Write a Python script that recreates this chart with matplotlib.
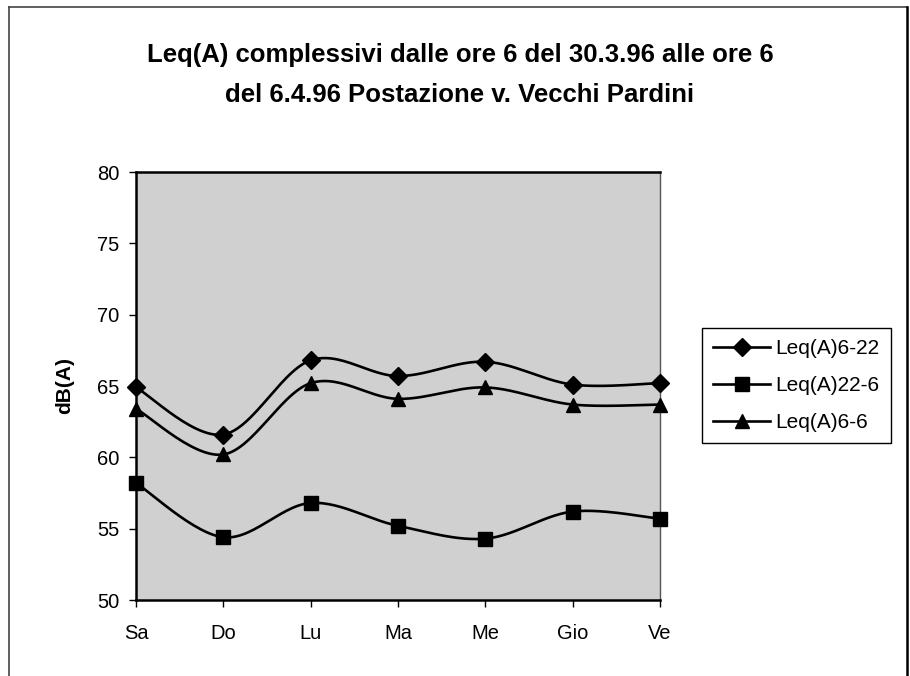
import numpy as np
import matplotlib
matplotlib.use("Agg")
import matplotlib.pyplot as plt
from matplotlib.lines import Line2D

plt.rcParams['font.family'] = ['Liberation Sans', 'DejaVu Sans']

days = ["Sa", "Do", "Lu", "Ma", "Me", "Gio", "Ve"]
leq_6_22 = [64.9, 61.6, 66.8, 65.7, 66.7, 65.1, 65.2]
leq_22_6 = [58.2, 54.4, 56.8, 55.2, 54.3, 56.2, 55.7]
leq_6_6 = [63.4, 60.2, 65.2, 64.1, 64.9, 63.7, 63.7]
series_names = ["Leq(A)6-22", "Leq(A)22-6", "Leq(A)6-6"]
markers = ["D", "s", "^"]
msizes = [9, 10, 10.5]
yticks = [50, 55, 60, 65, 70, 75, 80]


def smooth(x, y, n=30):
    x = np.asarray(x, float)
    y = np.asarray(y, float)
    px = np.concatenate([[x[0]], x, [x[-1]]])
    py = np.concatenate([[y[0]], y, [y[-1]]])
    xs, ys = [], []
    t = np.linspace(0, 1, n)
    for i in range(1, len(px) - 2):
        p0 = np.array([px[i], py[i]])
        p3 = np.array([px[i + 1], py[i + 1]])
        c1 = p0 + (p3 - np.array([px[i - 1], py[i - 1]])) / 6.0
        c2 = p3 - (np.array([px[i + 2], py[i + 2]]) - p0) / 6.0
        b = ((1 - t) ** 3)[:, None] * p0 + (3 * (1 - t) ** 2 * t)[:, None] * c1 \
            + (3 * (1 - t) * t ** 2)[:, None] * c2 + (t ** 3)[:, None] * p3
        xs.extend(b[:, 0])
        ys.extend(b[:, 1])
    return np.array(xs), np.array(ys)


fig = plt.figure(figsize=(9.1, 6.76), dpi=100)
ax = fig.add_axes([136 / 910, 76 / 676, 524 / 910, 428 / 676])
ax.set_facecolor('#d0d0d0')

x = np.arange(len(days))
handles = []
for vals, name, m, ms in zip([leq_6_22, leq_22_6, leq_6_6], series_names, markers, msizes):
    sx, sy = smooth(x, vals)
    ax.plot(sx, sy, color='black', lw=1.9, zorder=3, clip_on=False)
    ax.plot(x, vals, linestyle='none', marker=m, ms=ms, color='black', zorder=4, clip_on=False)
    handles.append(Line2D([0], [0], color='black', lw=1.9, marker=m, ms=ms))

ax.set_xlim(0, 6)
ax.set_ylim(50, 80)
ax.set_xticks(x)
ax.set_xticklabels(days, fontsize=14.5)
ax.set_yticks(yticks)
ax.set_yticklabels([str(v) for v in yticks], fontsize=14.5)
ax.tick_params(axis='both', direction='out', length=5, width=1, color='black')
ax.tick_params(axis='x', pad=12)
ax.tick_params(axis='y', pad=7)
for s in ['left', 'bottom', 'top']:
    ax.spines[s].set_linewidth(1.8)
    ax.spines[s].set_color('black')
ax.spines['right'].set_linewidth(1.0)
ax.spines['right'].set_color('#555555')

fig.text(65 / 910, 1 - 386 / 676, "dB(A)", rotation=90, ha='center', va='center',
         fontsize=15, fontweight='bold')

fig.text(0.5055, 0.918, "Leq(A) complessivi dalle ore 6 del 30.3.96 alle ore 6",
         ha='center', va='center', fontsize=18.5, fontweight='bold')
fig.text(0.5055, 0.859, "del 6.4.96 Postazione v. Vecchi Pardini",
         ha='center', va='center', fontsize=18.5, fontweight='bold')

leg = fig.legend(handles, series_names, loc='upper left',
                 bbox_to_anchor=(702 / 910, 1 - 328 / 676), fontsize=15,
                 frameon=True, fancybox=False, edgecolor='black', framealpha=1,
                 handlelength=2.7, handletextpad=0.25, borderpad=0.55, labelspacing=0.85,
                 borderaxespad=0)
leg.get_frame().set_linewidth(1.0)

fig.add_artist(Line2D([9 / 910, 9 / 910], [0, 1 - 7 / 676], color='#444444', lw=1.2))
fig.add_artist(Line2D([9 / 910, 907 / 910], [1 - 7 / 676, 1 - 7 / 676], color='#444444', lw=1.2))
fig.add_artist(Line2D([907 / 910, 907 / 910], [0, 1 - 7 / 676], color='black', lw=1.8))

fig.savefig("out.png", dpi=100)
